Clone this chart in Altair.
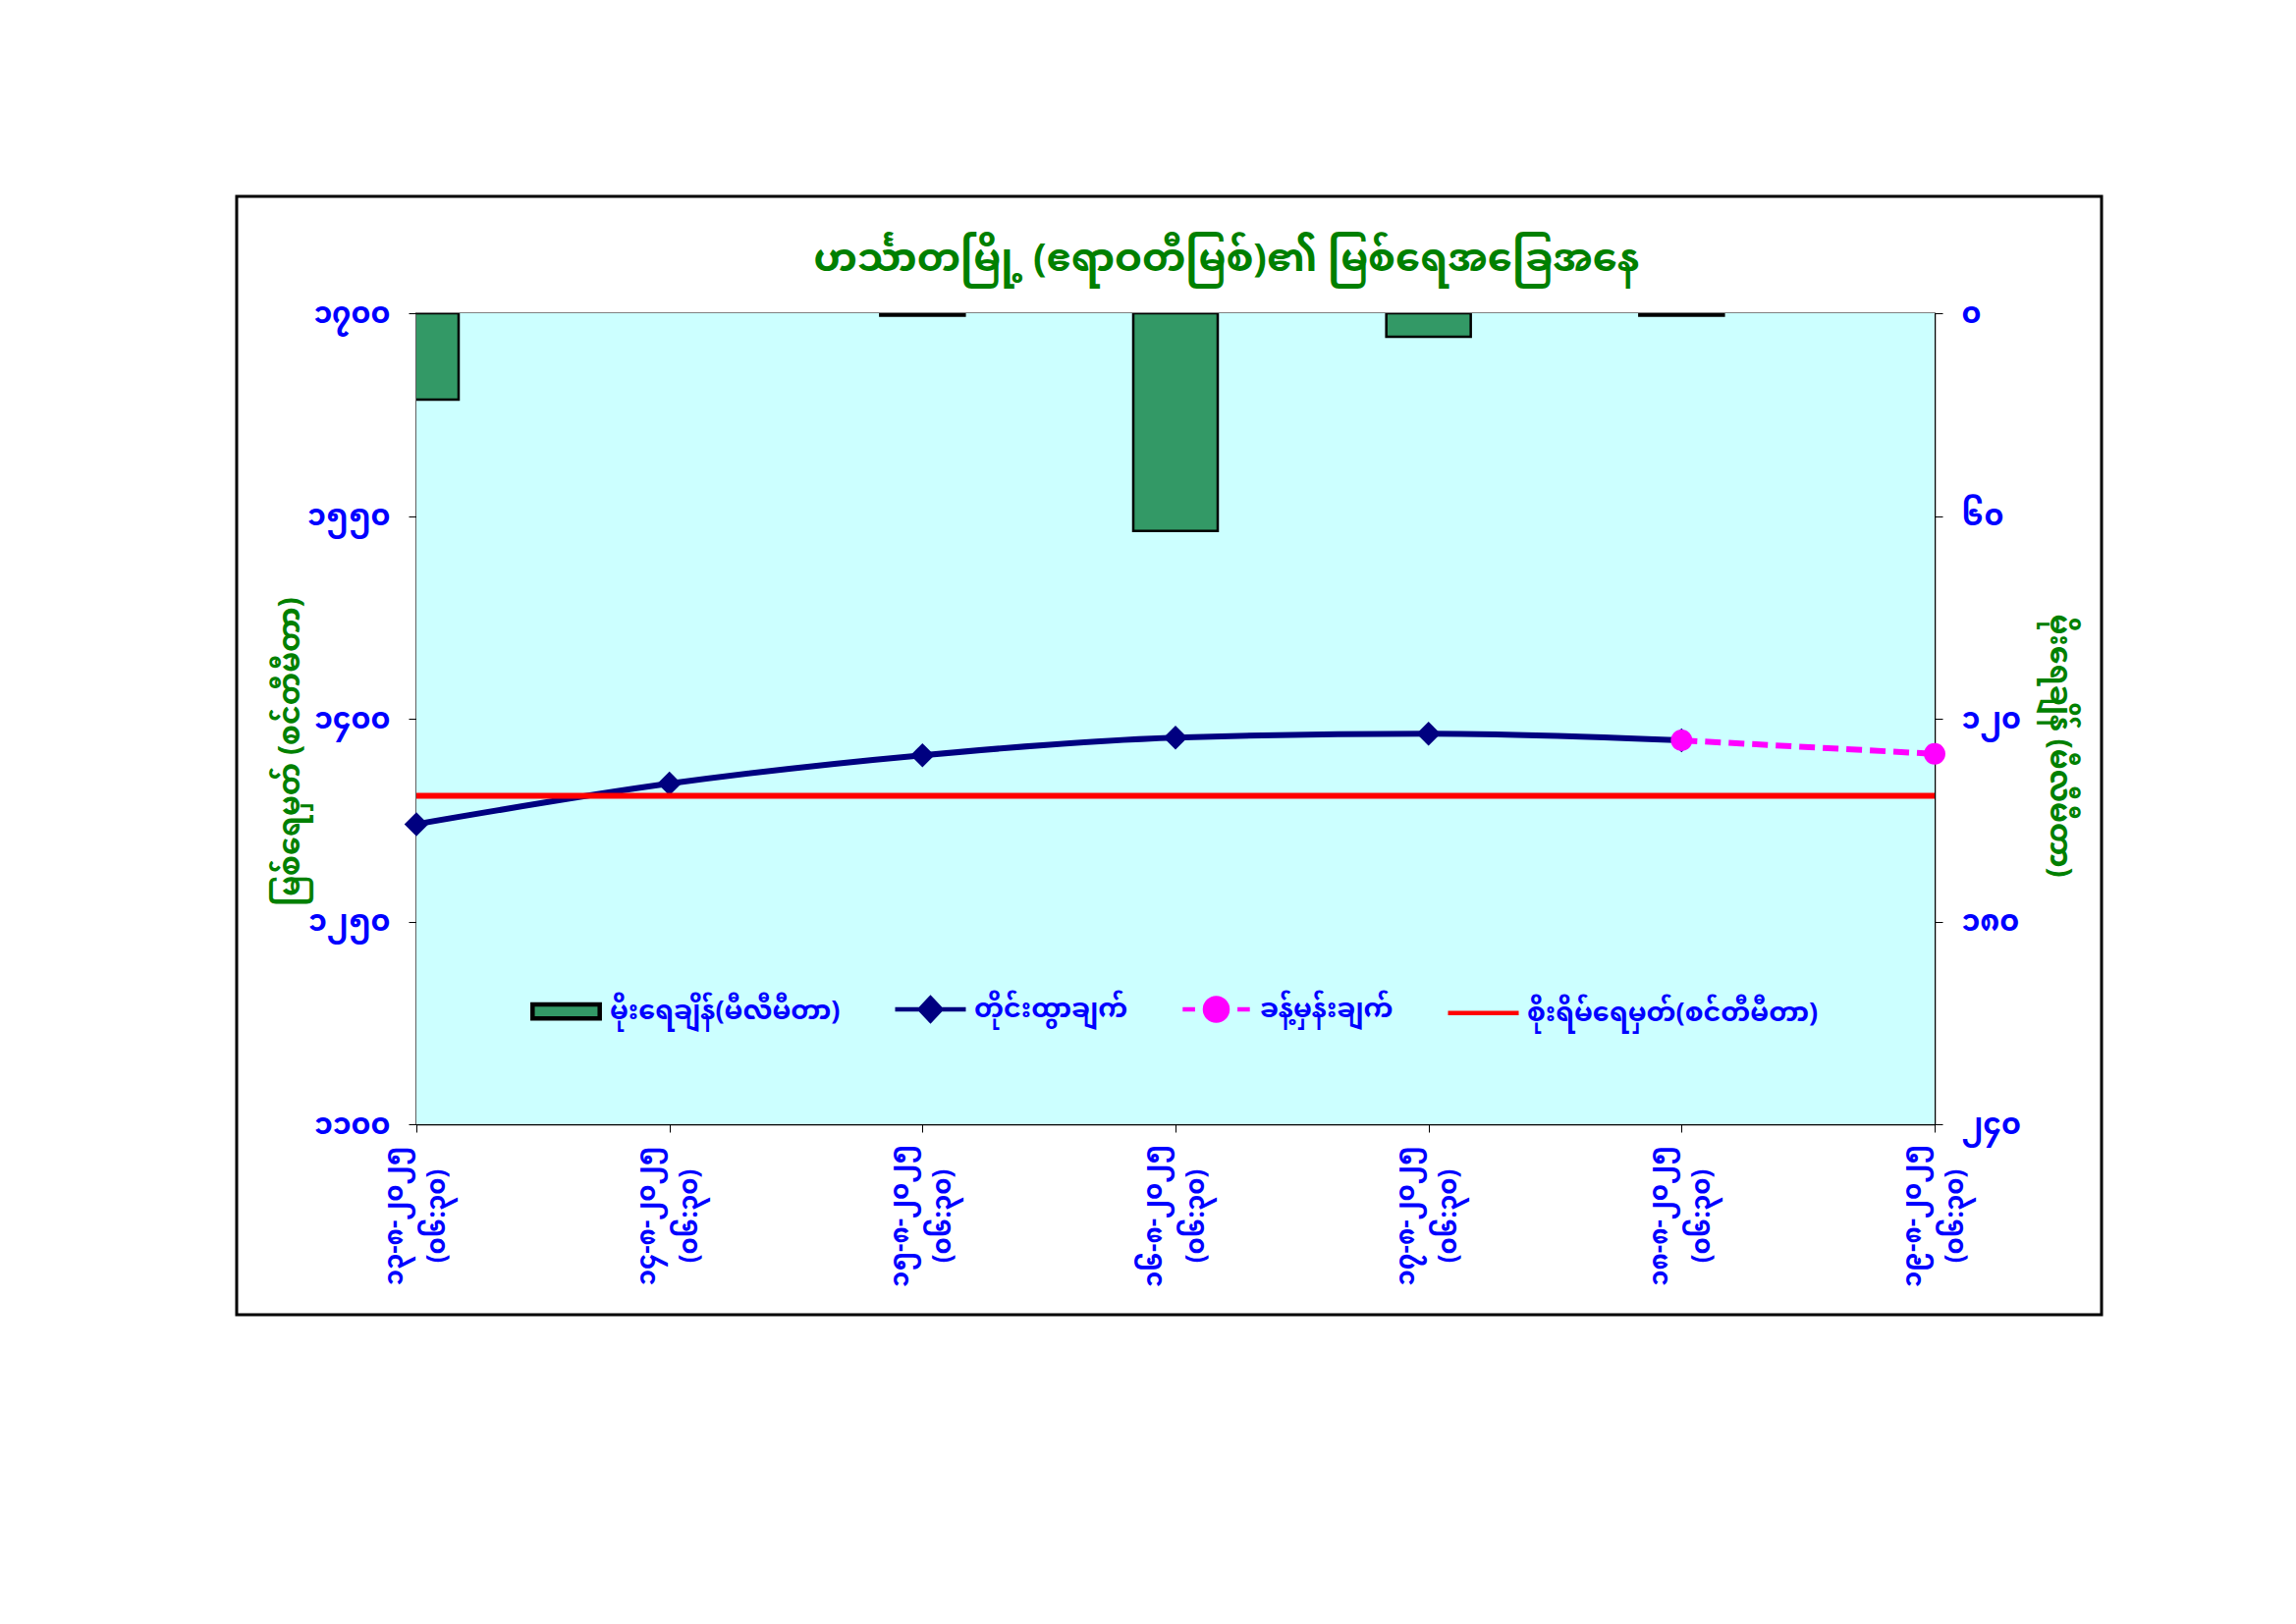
import altair as alt
import pandas as pd

# ---------------- data ----------------
dates = ["၁၃-၈-၂၀၂၅", "၁၄-၈-၂၀၂၅", "၁၅-၈-၂၀၂၅", "၁၆-၈-၂၀၂၅",
         "၁၇-၈-၂၀၂၅", "၁၈-၈-၂၀၂၅", "၁၉-၈-၂၀၂၅"]
times = ["(၀၆:၃၀)", "(၀၆:၃၀)", "(၀၆:၃၀)", "(၀၆:၃၀)",
         "(၀၆:၃၀)", "(၀၆:၃၀)", "(၀၆:၃၀)"]
rainfall_mm = [25.6, None, 0.7, 64.4, 7.0, 0.7, None]
observed_cm = [1322, 1352, 1373, 1386, 1389, 1384, None]
forecast_cm = [None, None, None, None, None, 1384, 1374]
danger_cm = [1343]

level_ticks = [1100, 1250, 1400, 1550, 1700]
level_tick_labels = ["၁၁၀၀", "၁၂၅၀", "၁၄၀၀", "၁၅၅၀", "၁၇၀၀"]
rain_ticks = [0, 60, 120, 180, 240]
rain_tick_labels = ["၀", "၆၀", "၁၂၀", "၁၈၀", "၂၄၀"]

series_names = ["မိုးရေချိန်(မီလီမီတာ)", "တိုင်းထွာချက်",
                "ခန့်မှန်းချက်", "စိုးရိမ်ရေမှတ်(စင်တီမီတာ)"]
title_text = "ဟင်္သာတမြို့ (ဧရာဝတီမြစ်)၏ မြစ်ရေအခြေအနေ"
left_title = "မြစ်ရေမှတ် (စင်တီမီတာ)"
right_title = "မိုးရေချိန် (မီလီမီတာ)"

# ---------------- styles ----------------
FONT = "Noto Sans Myanmar, Padauk, Myanmar Text, Noto Sans, sans-serif"
BLUE = "#0000FF"
GREEN_TXT = "#008000"
BAR_GREEN = "#339966"
NAVY = "#000080"
MAGENTA = "#FF00FF"
RED = "#FF0000"
PLOT_BG = "#CCFFFF"

W, H = 1546, 826

labels = [f"{d} {t}" for d, t in zip(dates, times)]

obs_df = pd.DataFrame({"label": labels, "level": observed_cm}).dropna()
fc_df = pd.DataFrame({"label": labels, "level": forecast_cm}).dropna()
rain_df = pd.DataFrame({"label": labels, "rain": rainfall_mm}).dropna()
danger_df = pd.DataFrame({"level": danger_cm})


def expr_map(ticks, texts):
    parts = [f"datum.value == {t} ? '{s}'" for t, s in zip(ticks, texts)]
    return " : ".join(parts) + " : ''"


x_enc = alt.X(
    "label:N",
    sort=labels,
    scale=alt.Scale(type="point", domain=labels, padding=0),
    axis=alt.Axis(
        title=None,
        labelExpr="split(datum.label, ' ')",
        labelAngle=270,
        labelAlign="center",
        labelBaseline="middle",
        labelPadding=85,
        labelOffset=-23,
        labelFont=FONT,
        labelFontSize=26,
        labelFontWeight="bold",
        labelColor=BLUE,
        labelLineHeight=43,
        tickSize=8,
        tickColor="black",
        domainColor="black",
        domainWidth=1.5,
        grid=False,
    ),
)

level_axis = alt.Axis(
    orient="left",
    values=level_ticks,
    labelExpr=expr_map(level_ticks, level_tick_labels),
    title=left_title,
    grid=True,
    gridColor="black",
    gridWidth=1,
    tickColor="black",
    tickSize=8,
    domainColor="black",
    domainWidth=1.5,
    labelColor=BLUE,
    labelFont=FONT,
    labelFontSize=30,
    labelFontWeight="bold",
    labelPadding=19,
    titleColor=GREEN_TXT,
    titleFont=FONT,
    titleFontSize=30,
    titleFontWeight="bold",
    titleAngle=270,
    titleX=-129,
    titleY=446,
    titleAlign="center",
    titleBaseline="middle",
)


def level_y():
    return alt.Y("level:Q", scale=alt.Scale(domain=[1100, 1700], nice=False, zero=False),
                 axis=level_axis)


# plot-area background
plot_bg = alt.Chart(pd.DataFrame({"k": [0]})).mark_rect(
    fill=PLOT_BG, strokeWidth=0
).encode(x=alt.value(0), x2=alt.value(W), y=alt.value(0), y2=alt.value(H))

bars = alt.Chart(rain_df).mark_bar(
    width=86, fill=BAR_GREEN, stroke="black", strokeWidth=2.5, clip=True
).encode(
    x=x_enc,
    y=alt.Y(
        "rain:Q",
        scale=alt.Scale(domain=[0, 240], reverse=True, nice=False),
        axis=alt.Axis(
            orient="right",
            values=rain_ticks,
            labelExpr=expr_map(rain_ticks, rain_tick_labels),
            title=right_title,
            grid=False,
            tickColor="black",
            tickSize=8,
            domainColor="black",
            domainWidth=1.5,
            labelColor=BLUE,
            labelFont=FONT,
            labelFontSize=30,
            labelFontWeight="bold",
            labelPadding=19,
            titleColor=GREEN_TXT,
            titleFont=FONT,
            titleFontSize=30,
            titleFontWeight="bold",
            titleAngle=90,
            titleX=126,
            titleY=440,
            titleAlign="center",
            titleBaseline="middle",
        ),
    ),
)

observed_line = alt.Chart(obs_df).mark_line(
    color=NAVY, strokeWidth=6, interpolate="monotone",
    point=alt.OverlayMarkDef(shape="diamond", size=600, filled=True, color=NAVY, opacity=1),
).encode(x=x_enc, y=level_y())

forecast_line = alt.Chart(fc_df).mark_line(
    color=MAGENTA, strokeWidth=6, strokeDash=[16, 8],
    point=alt.OverlayMarkDef(shape="circle", size=480, filled=True, color=MAGENTA, opacity=1),
).encode(x=x_enc, y=level_y())

danger_rule = alt.Chart(danger_df).mark_rule(color=RED, strokeWidth=6).encode(y=level_y())

level_layers = alt.layer(observed_line, danger_rule, forecast_line)

# legend (built from explicit scale domains)
shape_paths = [
    "M-0.95,-0.2 L0.95,-0.2 L0.95,0.2 L-0.95,0.2 Z",
    "M-1,0 L1,0 M0,-0.32 L0.3,0 L0,0.32 L-0.3,0 Z",
    "M-0.95,0 L-0.6,0 M0.6,0 L0.95,0 M0.32,0 A0.32,0.32 0 1 1 -0.32,0 A0.32,0.32 0 1 1 0.32,0 Z",
    "M-1,0 L1,0",
]
leg = alt.Legend(
    title=None,
    orient="none",
    legendX=114,
    legendY=670,
    direction="horizontal",
    columns=4,
    columnPadding=46,
    symbolSize=5184,
    symbolStrokeWidth=4.5,
    labelFont=FONT,
    labelFontSize=27,
    labelFontWeight="bold",
    labelColor=BLUE,
    labelOffset=6,
    padding=0,
    labelLimit=600,
)
legend_df = pd.DataFrame({"series": series_names})
legend_layer = alt.Chart(legend_df).transform_filter("false").mark_point(opacity=1).encode(
    shape=alt.Shape("series:N", scale=alt.Scale(domain=series_names, range=shape_paths), legend=leg),
    fill=alt.Fill("series:N", scale=alt.Scale(domain=series_names,
                                              range=[BAR_GREEN, NAVY, MAGENTA, "transparent"]), legend=leg),
    stroke=alt.Stroke("series:N", scale=alt.Scale(domain=series_names,
                                                  range=["black", NAVY, MAGENTA, RED]), legend=leg),
)

frame = alt.Chart(pd.DataFrame({"k": [0]})).mark_rect(
    fillOpacity=0, stroke="black", strokeWidth=3, clip=False
).encode(
    x=alt.value(-183), x2=alt.value(W + 170), y=alt.value(-119), y2=alt.value(H + 194)
)

chart = alt.layer(plot_bg, bars, level_layers, legend_layer, frame).resolve_scale(
    y="independent"
).properties(
    width=W,
    height=H,
    padding={"left": 416, "top": 311, "right": 340, "bottom": 480},
    autosize=alt.AutoSizeParams(type="none"),
    title=alt.TitleParams(
        text=title_text,
        font=FONT,
        fontSize=40,
        fontWeight="bold",
        color=GREEN_TXT,
        anchor="middle",
        frame="group",
        offset=30,
        dx=52,
        dy=115,
    ),
).configure(background="white").configure_view(
    fill=PLOT_BG, stroke="#808080", strokeWidth=2
)

chart.save("out.html", embed_options={"renderer": "svg", "actions": False})
